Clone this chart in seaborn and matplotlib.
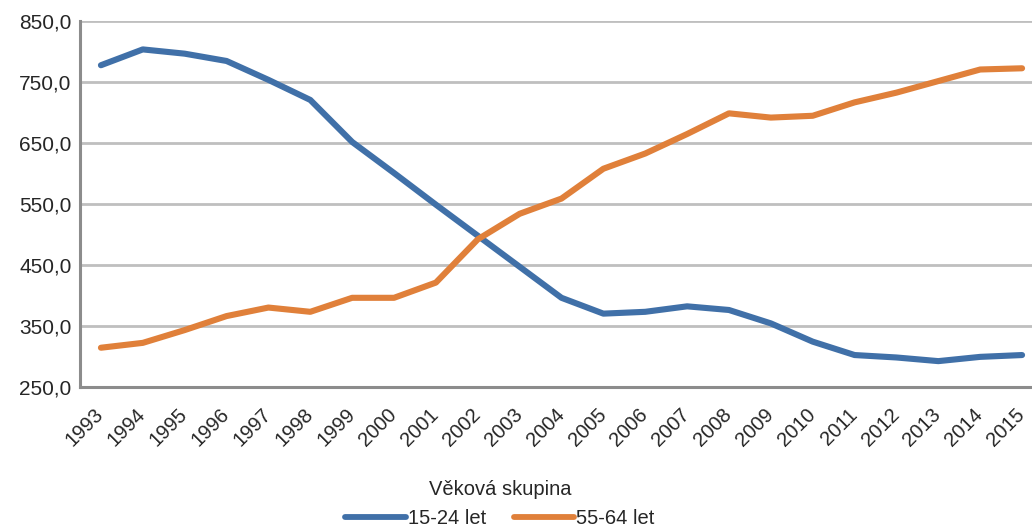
import matplotlib
matplotlib.use("Agg")
import matplotlib.pyplot as plt
import matplotlib.transforms as mtransforms
import numpy as np
import pandas as pd
import seaborn as sns
from matplotlib.ticker import FixedLocator, FuncFormatter

# --- data ---
years = list(range(1993, 2016))
young = [778, 804, 797, 785, 754, 721, 652, 601, 549, 498, 447, 396,
         370, 373, 382, 376, 354, 324, 302, 298, 292, 299, 302]
older = [314, 322, 343, 366, 380, 373, 396, 396, 421, 492, 534, 559,
         608, 633, 665, 699, 692, 695, 717, 733, 752, 771, 773]
series_names = ["15-24 let", "55-64 let"]
palette = {"15-24 let": "#4070A8", "55-64 let": "#E0803A"}

df = pd.DataFrame({"Rok": years, series_names[0]: young, series_names[1]: older})
long = df.melt(id_vars="Rok", var_name="Věková skupina", value_name="Počet")

sns.set_style("white")
plt.rcParams["font.family"] = ["Liberation Sans", "DejaVu Sans"]

fig = plt.figure(figsize=(10.32, 5.28), dpi=100)
ax = fig.add_axes([80 / 1032, 141.3 / 528, 963 / 1032, 365.3 / 528])

sns.lineplot(data=long, x="Rok", y="Počet", hue="Věková skupina",
             palette=palette, linewidth=4.4, ax=ax, solid_capstyle="round")

ax.set_xlim(1992.5, 2015.5)
ax.set_ylim(250, 850)
ax.set_yticks(np.arange(250, 851, 100))
ax.yaxis.set_major_formatter(FuncFormatter(lambda v, _: f"{v:.1f}".replace(".", ",")))

# tick marks sit between categories, labels at the category centres
ax.xaxis.set_major_locator(FixedLocator(np.arange(1992.5, 2016, 1)))
ax.xaxis.set_minor_locator(FixedLocator(years))
ax.xaxis.set_major_formatter(FuncFormatter(lambda v, _: ""))
ax.xaxis.set_minor_formatter(FuncFormatter(lambda v, _: str(int(v))))
ax.tick_params(axis="x", which="major", length=5, width=2, color="#8C8C8C", direction="out")
ax.tick_params(axis="x", which="minor", length=0, pad=13, labelsize=14.5)
ax.tick_params(axis="y", length=5, width=2, color="#8C8C8C", direction="out",
               labelsize=15, pad=1)
shift = mtransforms.ScaledTranslation(-7 / 100, 0, fig.dpi_scale_trans)
for lbl in ax.get_xticklabels(minor=True):
    lbl.set_rotation(45)
    lbl.set_ha("right")
    lbl.set_rotation_mode("anchor")
    lbl.set_transform(lbl.get_transform() + shift)

ax.grid(axis="y", color="#BFBFBF", linewidth=2)
ax.set_axisbelow(True)
for side in ["top", "right"]:
    ax.spines[side].set_visible(False)
for side in ["left", "bottom"]:
    ax.spines[side].set_color("#8C8C8C")
    ax.spines[side].set_linewidth(2.2)
ax.set_xlabel("")
ax.set_ylabel("")

sns.move_legend(ax, "lower center", bbox_to_anchor=(500 / 1032, -0.035),
                bbox_transform=fig.transFigure, ncol=2, frameon=False,
                title="Věková skupina", fontsize=14.5, title_fontsize=14.5,
                handlelength=3.0, handletextpad=0.1, columnspacing=1.4,
                labelspacing=0.5)
for line in ax.get_legend().get_lines():
    line.set_linewidth(4.2)
    line.set_solid_capstyle("round")

fig.savefig("out.png", dpi=100)
